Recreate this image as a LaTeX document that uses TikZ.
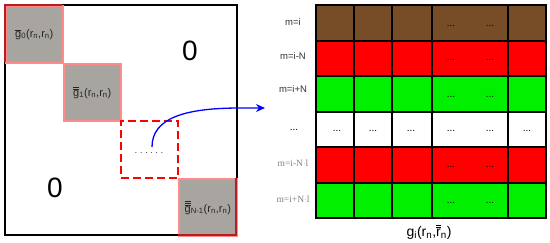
\documentclass[tikz,border=0pt]{standalone}
\usepackage{fontspec}
\setmainfont{Liberation Sans}
\newfontfamily\serifm{Liberation Serif}
\usetikzlibrary{arrows.meta}
\definecolor{brownc}{HTML}{774D28}
\definecolor{redc}{HTML}{FF0000}
\definecolor{greenc}{HTML}{00F000}
\definecolor{grayc}{HTML}{A8A4A0}
\definecolor{pinkc}{HTML}{FF8A8A}
\definecolor{darkr}{HTML}{B81C1C}
\definecolor{labc}{HTML}{333333}
\newcommand{\gbar}[1]{$\overline{\mbox{g}}$\textsubscript{#1}(r\textsubscript{n},r\textsubscript{n})}
\newcommand{\gbbar}[1]{$\overline{\overline{\mbox{g}}}$\textsubscript{#1}(r\textsubscript{n},r\textsubscript{n})}
\newcommand{\gbbbar}[1]{$\overline{\overline{\overline{\mbox{g}}}}$\textsubscript{#1}(r\textsubscript{n},r\textsubscript{n})}
\tikzset{
  blockc/.style={draw=pinkc, fill=grayc, line width=1.6pt},
  cellc/.style={draw=black, line width=2pt},
  dotsc/.style={font=\fontsize{10}{10}\selectfont, inner sep=0pt},
  rowlab/.style={font=\fontsize{9.5}{10}\selectfont, text=labc, inner sep=0pt},
  rowlabs/.style={font=\serifm\fontsize{9.5}{10}\selectfont, text=gray, inner sep=0pt},
  blab/.style={font=\fontsize{11}{12}\selectfont, text=black!85, inner sep=0pt},
}
\begin{document}
\begin{tikzpicture}[x=1pt,y=-1pt]
\useasboundingbox (0,0) rectangle (550,242);
% left matrix
\draw[line width=1.8pt] (5,5) rectangle (237,235);
\node[blockc, minimum width=57pt, minimum height=57pt, anchor=north west] (b0) at (5,5) {};
\node[blockc, minimum width=57pt, minimum height=57pt, anchor=north west] (b1) at (63,63) {};
\node[blockc, minimum width=58pt, minimum height=57pt, anchor=north west] (bN) at (178,178) {};
\draw[darkr, line width=1.8pt] (5,62) -- (5,5) -- (62,5);
\draw[darkr, line width=1.8pt] (178,235) -- (236,235) -- (236,178);
\node[blab] at (b0) {\gbar{0}};
\node[blab] at (b1) {\gbbar{1}};
\node[blab] at (bN) {\gbbbar{N-1}};
\node[draw=redc, dash pattern=on 8pt off 4pt, line width=2pt, minimum width=57pt, minimum height=57pt, anchor=north west] (dbox) at (120,120) {};
\node[font=\fontsize{8}{8}\selectfont, inner sep=0pt] (dd) at (149,153) {. . . . . .};
\node[font=\fontsize{28}{28}\selectfont, inner sep=0pt] (z1) at (190,51) {0};
\node[font=\fontsize{28}{28}\selectfont, inner sep=0pt] (z2) at (55,188) {0};
% right grid
\def\cols{316/354,354/392,392/432,432/508,508/546}
\foreach \r/\col in {0/brownc,1/redc,2/greenc,3/white,4/redc,5/greenc}{
  \foreach \a/\b [count=\c] in \cols{
    \pgfmathsetmacro{\ty}{5+35.5*\r}
    \pgfmathsetmacro{\by}{40.5+35.5*\r}
    \draw[cellc, fill=\col] (\a,\ty) rectangle (\b,\by);
  }
}
\foreach \r/\dy in {0/3,1/2,2/3,4/2,5/3}{
  \pgfmathsetmacro{\yy}{22.75+35.5*\r+\dy}
  \node[dotsc] at (451,\yy) {...};
  \node[dotsc] at (490,\yy) {...};
}
\foreach \xx in {337,373,411,451,490,527}{
  \node[dotsc] at (\xx,131) {...};
}
\coordinate (gridW) at (265,108);
\node[rowlab] (l1) at (293,22) {m=i};
\node[rowlab] (l2) at (293,56) {m=i-N};
\node[rowlab] (l3) at (293,89) {m=i+N};
\node[dotsc] (l4) at (294,130) {...};
\node[rowlabs] (l5) at (293,163) {m=i-N$\cdot$l};
\node[rowlabs] (l6) at (293,199) {m=i+N$\cdot$l};
\node[font=\fontsize{14}{16}\selectfont, inner sep=0pt] (glab) at (429,232) {g\textsubscript{i}(r\textsubscript{n},$\overline{\overline{\mbox{r}}}$\textsubscript{n})};
% arrow
\coordinate (st) at (152,147);
\draw[blue, line width=1.3pt, -{Stealth[length=9pt,width=8pt]}] (st) .. controls (152,118) and (185,108) .. (240,108) -- (gridW);
\end{tikzpicture}
\end{document}
